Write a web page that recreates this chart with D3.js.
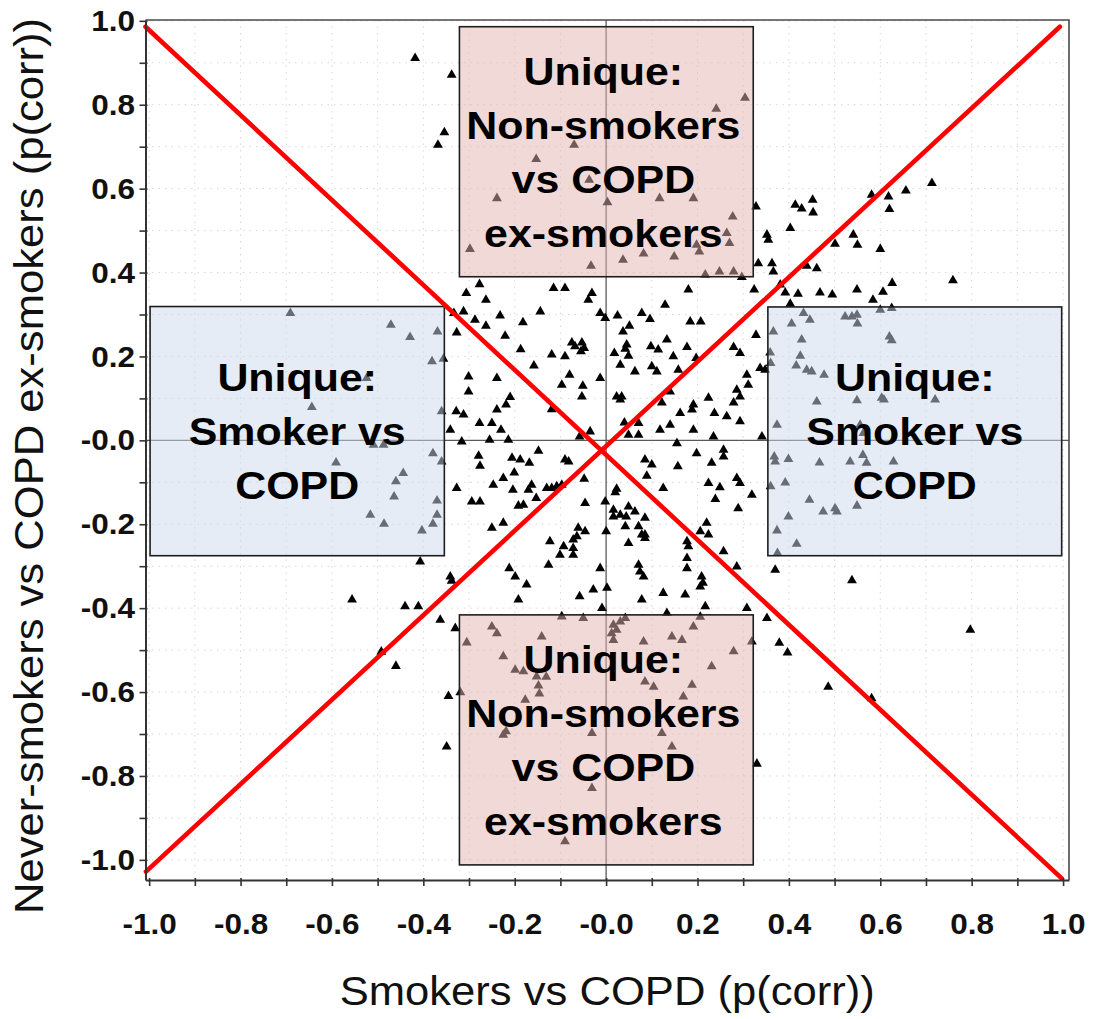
<!DOCTYPE html>
<html>
<head>
<meta charset="utf-8">
<script src="https://cdn.jsdelivr.net/npm/d3@7"></script>
<style>
  html, body { margin: 0; padding: 0; background: #fff; }
  svg { display: block; }
  text { font-family: "Liberation Sans", Arial, Helvetica, sans-serif; }
</style>
</head>
<body>
<svg id="chart" width="1098" height="1019"></svg>
<script>
// p(corr) loadings: [Smokers vs COPD, Never-smokers vs COPD ex-smokers]
const loadings = [
  [-0.418,0.911],[-0.338,0.871],[-0.354,0.734],[-0.368,0.704],
  [0.304,0.816],[0.241,0.790],[-0.070,0.704],[-0.153,0.670],[-0.037,0.621],[-0.239,0.577],[0.003,0.567],
  [0.117,0.577],[0.191,0.577],[0.277,0.533],[0.264,0.494],[0.270,0.470],[0.198,0.466],[0.204,0.450],
  [-0.298,0.456],[0.037,0.430],[0.082,0.445],[0.149,0.438],[-0.033,0.416],[0.217,0.395],[0.248,0.402],[0.279,0.402],
  [0.297,0.389],[0.328,0.557],[0.352,0.490],[0.355,0.478],[0.333,0.422],[0.363,0.422],[0.366,0.402],[0.403,0.506],
  [0.414,0.561],[0.428,0.552],[0.452,0.573],[0.453,0.543],[0.501,0.468],[0.541,0.490],[0.550,0.466],[0.600,0.456],
  [0.581,0.585],[0.618,0.581],[0.620,0.551],[0.656,0.595],[0.713,0.613],[0.759,0.381],[0.439,0.416],[0.461,0.410],
  [0.324,0.359],[0.381,0.371],[0.392,0.352],[0.420,0.349],[0.468,0.352],[0.495,0.347],[0.549,0.359],[0.584,0.335],
  [0.606,0.354],[0.626,0.375],[0.403,0.325],
  [-0.277,0.372],[-0.306,0.351],[-0.263,0.335],[-0.115,0.363],[-0.090,0.363],[-0.031,0.351],[-0.039,0.335],
  [0.180,0.359],[0.129,0.323],[-0.333,0.303],[-0.312,0.307],[-0.287,0.287],[-0.263,0.273],[-0.232,0.297],
  [-0.182,0.281],[-0.144,0.307],[-0.013,0.303],[-0.002,0.291],[0.025,0.297],[0.078,0.303],[0.096,0.289],
  [0.051,0.273],[0.037,0.259],[0.184,0.283],[0.207,0.283],[-0.327,0.257],[-0.221,0.249],[0.328,0.251],
  [-0.075,0.233],[-0.068,0.224],[-0.053,0.233],[-0.048,0.220],[-0.055,0.212],[-0.119,0.204],[-0.090,0.200],
  [-0.187,0.217],[0.045,0.228],[0.042,0.218],[0.049,0.201],[0.018,0.208],[0.031,0.180],[0.098,0.224],
  [0.114,0.216],[0.133,0.240],[0.147,0.200],[0.177,0.222],[0.197,0.196],[0.279,0.222],[0.293,0.208],
  [-0.158,0.178],[0.063,0.164],[0.100,0.176],[0.111,0.164],[0.158,0.168],[0.337,0.172],[0.348,0.168],
  [0.308,0.156],[-0.080,0.156],[-0.097,0.132],[-0.051,0.130],[-0.013,0.148],[-0.301,0.152],[-0.239,0.148],
  [-0.301,0.116],[0.311,0.132],[0.286,0.120],[0.293,0.104],[0.279,0.090],[0.140,0.116],[-0.053,0.104],
  [0.023,0.104],[0.034,0.104],[0.031,0.097],[-0.210,0.103],[-0.219,0.085],[-0.239,0.073],[-0.119,0.074],
  [-0.328,0.069],[-0.312,0.061],[0.122,0.090],[0.162,0.065],[0.188,0.073],[0.191,0.085],[0.224,0.101],
  [0.237,0.065],[0.264,0.057],[0.293,0.045],[-0.277,0.041],[-0.250,0.041],[-0.230,0.025],[-0.341,0.025],
  [-0.035,0.021],[-0.058,0.009],[0.040,0.042],[0.071,0.041],[0.049,0.013],[0.071,0.013],[0.118,0.025],
  [0.140,0.037],[0.191,0.025],[0.235,0.009],[0.341,0.009],[-0.316,-0.003],[-0.255,0.001],[-0.214,0.001],
  [0.155,-0.007],[0.257,-0.023],[0.257,-0.039],[0.198,-0.031],[-0.148,-0.025],[-0.279,-0.037],[-0.276,-0.061],
  [-0.206,-0.042],[-0.188,-0.046],[-0.168,-0.054],[-0.090,-0.046],[-0.082,-0.051],[0.085,-0.046],[0.100,-0.058],
  [0.157,-0.062],[0.231,-0.054],[-0.201,-0.077],[-0.225,-0.090],[-0.247,-0.106],[-0.327,-0.114],[-0.048,-0.092],
  [0.089,-0.085],[0.286,-0.090],[0.293,-0.102],[0.224,-0.102],[0.249,-0.112],[-0.204,-0.118],[-0.163,-0.106],
  [-0.170,-0.118],[-0.130,-0.114],[-0.119,-0.114],[-0.108,-0.110],[-0.097,-0.106],[0.023,-0.116],[0.020,-0.124],
  [0.125,-0.114],[0.319,-0.130],[0.239,-0.140],[-0.294,-0.146],[-0.276,-0.146],[-0.153,-0.138],[-0.181,-0.154],
  [-0.192,-0.156],[-0.046,-0.150],[-0.002,-0.146],[0.049,-0.158],[0.063,-0.170],[0.016,-0.166],[0.031,-0.178],
  [0.044,-0.182],[0.016,-0.182],[0.085,-0.185],[0.289,-0.162],[-0.250,-0.209],[-0.225,-0.197],[-0.061,-0.209],
  [-0.046,-0.217],[-0.064,-0.229],[-0.072,-0.237],[0.000,-0.217],[0.042,-0.205],[0.071,-0.205],[0.078,-0.225],
  [0.085,-0.225],[0.206,-0.217],[0.224,-0.225],[0.220,-0.197],[-0.123,-0.241],[-0.093,-0.253],[-0.072,-0.257],
  [0.049,-0.245],[0.085,-0.233],[0.177,-0.241],[0.180,-0.253],[-0.101,-0.273],[-0.072,-0.273],[-0.126,-0.297],
  [0.257,-0.265],[0.177,-0.281],[0.177,-0.305],[0.071,-0.297],[0.074,-0.313],[0.082,-0.325],[-0.013,-0.305],
  [0.286,-0.301],[0.370,-0.309],[-0.407,-0.289],[-0.212,-0.305],[-0.199,-0.325],[-0.174,-0.344],[-0.192,-0.380],
  [-0.341,-0.325],[-0.338,-0.335],[0.209,-0.325],[0.212,-0.340],[0.206,-0.349],[-0.028,-0.356],[0.002,-0.352],
  [-0.058,-0.372],[0.078,-0.380],[0.125,-0.364],[0.173,-0.368],[-0.009,-0.400],[0.308,-0.400],[0.352,-0.424],
  [0.217,-0.396],[-0.440,-0.396],[-0.411,-0.396],[-0.363,-0.428],[-0.330,-0.448],[-0.556,-0.380],[-0.492,-0.504],
  [-0.460,-0.538],[-0.345,-0.610],[-0.349,-0.730],[0.538,-0.334],[0.133,-0.412],
  [0.432,0.303],[0.446,0.287],[0.406,0.278],[0.366,0.259],[0.523,0.295],[0.538,0.295],[0.549,0.299],
  [0.550,0.278],[0.600,0.311],[0.625,0.315],[0.428,0.240],[0.620,0.247],[0.625,0.238],[0.359,0.209],
  [0.360,0.184],[0.425,0.201],[0.416,0.178],[0.439,0.168],[0.450,0.164],[0.477,0.156],[0.461,0.092],
  [0.549,0.095],[0.603,0.101],[0.608,0.097],[0.720,0.097],[0.374,0.037],[0.556,0.037],[0.563,0.017],
  [0.368,-0.039],[0.370,-0.051],[0.399,-0.045],[0.467,-0.053],[0.534,-0.051],[0.562,-0.035],[0.570,-0.054],
  [0.629,-0.051],[0.360,-0.110],[0.392,-0.101],[0.445,-0.142],[0.475,-0.170],[0.501,-0.162],[0.505,-0.170],
  [0.549,-0.156],[0.399,-0.182],[0.374,-0.215],[0.417,-0.247],[0.375,-0.269],
  [-0.691,0.303],[-0.471,0.275],[-0.429,0.246],[-0.369,0.259],[-0.381,0.188],[-0.356,0.194],[-0.524,0.148],
  [-0.644,0.079],[-0.360,0.069],[-0.509,-0.011],[-0.487,-0.011],[-0.379,-0.031],[-0.360,-0.051],[-0.591,-0.053],
  [-0.444,-0.078],[-0.460,-0.098],[-0.464,-0.134],[-0.370,-0.144],[-0.370,-0.178],[-0.379,-0.199],[-0.516,-0.178],
  [-0.486,-0.199],[-0.403,-0.215],
  [-0.097,-0.420],[-0.050,-0.424],[0.016,-0.440],[0.031,-0.432],[0.042,-0.424],[0.023,-0.452],[0.012,-0.460],
  [0.016,-0.476],[-0.250,-0.444],[-0.239,-0.460],[-0.305,-0.482],[-0.141,-0.468],[-0.225,-0.515],[-0.199,-0.547],
  [-0.181,-0.551],[-0.152,-0.563],[-0.131,-0.564],[-0.148,-0.585],[-0.146,-0.604],[0.082,-0.480],[0.144,-0.468],
  [0.166,-0.476],[0.191,-0.444],[0.206,-0.421],[0.279,-0.503],[0.319,-0.480],[0.231,-0.539],[0.085,-0.575],
  [0.104,-0.588],[0.188,-0.583],[0.169,-0.611],[-0.177,-0.619],[-0.225,-0.702],[-0.219,-0.694],[-0.031,-0.698],
  [0.122,-0.698],[0.144,-0.730],[-0.031,-0.829],[-0.090,-0.956],[-0.319,-0.601],[0.379,-0.483],[0.397,-0.506],
  [0.797,-0.452],[0.486,-0.588],[0.581,-0.615],[0.330,-0.771]
];

// Axis extents (the plotted frame) and ticks
const xExtent = [-1.008, 1.013];
const yExtent = [-1.048, 1.002];
const majorTicks = [-1.0, -0.8, -0.6, -0.4, -0.2, 0.0, 0.2, 0.4, 0.6, 0.8, 1.0];
const minorTicks = [-0.9, -0.7, -0.5, -0.3, -0.1, 0.1, 0.3, 0.5, 0.7, 0.9];
const tickLabels = ["-1.0", "-0.8", "-0.6", "-0.4", "-0.2", "-0.0", "0.2", "0.4", "0.6", "0.8", "1.0"];
const gridValues = [-1.0,-0.9,-0.8,-0.7,-0.6,-0.5,-0.4,-0.3,-0.2,-0.1,0.1,0.2,0.3,0.4,0.5,0.6,0.7,0.8,0.9,1.0];

// Red diagonal reference lines (start/end in p(corr) units)
const diagonals = [
  [[-1.008, 0.986], [0.997, -1.044]],
  [[-1.007, -1.028], [0.993, 0.986]]
];

// Highlighted regions: [x0, x1, y0, y1] in p(corr) units
const regionBounds = [
  [-0.321, 0.322, 0.390, 0.986],
  [-0.321, 0.322, -1.012, -0.416],
  [-0.998, -0.354, -0.275, 0.319],
  [0.354, 0.997, -0.275, 0.318]
];
const regionLabels = [
  ["Unique:", "Non-smokers", "vs COPD", "ex-smokers"],
  ["Unique:", "Non-smokers", "vs COPD", "ex-smokers"],
  ["Unique:", "Smoker vs", "COPD"],
  ["Unique:", "Smoker vs", "COPD"]
];
const regionKinds = ["pink", "pink", "blue", "blue"];

const xTitle = "Smokers vs COPD (p(corr))";
const yTitle = "Never-smokers vs COPD ex-smokers (p(corr))";

// ---- layout ----
const frame = { left: 145.5, right: 1069, top: 20, bottom: 880 };
const svg = d3.select("#chart");

const x = d3.scaleLinear().domain(xExtent).range([frame.left, frame.right]);
const y = d3.scaleLinear().domain(yExtent).range([frame.bottom, frame.top]);

const fillFor = { pink: "#e4b3b1", blue: "#cbd9ee" };

// dotted grid
const grid = svg.append("g").attr("stroke", "#d8d8d8").attr("stroke-width", 1)
  .attr("stroke-dasharray", "1.5,5");
grid.selectAll("line.v").data(gridValues).join("line").attr("class", "v")
  .attr("x1", d => x(d)).attr("x2", d => x(d))
  .attr("y1", frame.top).attr("y2", frame.bottom);
grid.selectAll("line.h").data(gridValues).join("line").attr("class", "h")
  .attr("y1", d => y(d)).attr("y2", d => y(d))
  .attr("x1", frame.left).attr("x2", frame.right);

// zero lines
svg.append("line").attr("x1", frame.left).attr("x2", frame.right)
  .attr("y1", y(0)).attr("y2", y(0)).attr("stroke", "#5a5a5a").attr("stroke-width", 1.3);
svg.append("line").attr("y1", frame.top).attr("y2", frame.bottom)
  .attr("x1", x(0)).attr("x2", x(0)).attr("stroke", "#5a5a5a").attr("stroke-width", 1.3);

// points
const tri = d3.symbol().type(d3.symbolTriangle).size(42);
svg.append("g").selectAll("path").data(loadings).join("path")
  .attr("d", tri)
  .attr("transform", d => `translate(${x(d[0])},${y(d[1])})`)
  .attr("fill", "#000");

// highlighted regions
const regions = svg.append("g");
regionBounds.forEach((b, i) => {
  const rx0 = x(b[0]), rx1 = x(b[1]), ry0 = y(b[3]), ry1 = y(b[2]);
  regions.append("rect")
    .attr("x", rx0).attr("y", ry0).attr("width", rx1 - rx0).attr("height", ry1 - ry0)
    .attr("fill", fillFor[regionKinds[i]]).attr("fill-opacity", 0.5)
    .attr("stroke", "#1e1e1e").attr("stroke-width", 1.6);
  const lines = regionLabels[i];
  const cx = (rx0 + rx1) / 2 - (regionKinds[i] === "pink" ? 3 : 0);
  const cy = (ry0 + ry1) / 2 + 14;
  lines.forEach((t, j) => {
    regions.append("text")
      .attr("transform", `translate(${cx},${cy + (j - (lines.length - 1) / 2) * 54}) scale(1.1,1)`)
      .attr("text-anchor", "middle")
      .attr("font-size", 39).attr("font-weight", "bold").attr("fill", "#000")
      .text(t);
  });
});

// red diagonals
svg.append("g").selectAll("line").data(diagonals).join("line")
  .attr("x1", d => x(d[0][0])).attr("y1", d => y(d[0][1]))
  .attr("x2", d => x(d[1][0])).attr("y2", d => y(d[1][1]))
  .attr("stroke", "#ff0000").attr("stroke-width", 4.6).attr("stroke-linecap", "round");

// frame (top / right)
svg.append("path")
  .attr("d", `M${frame.left},${frame.top}H${frame.right}V${frame.bottom}`)
  .attr("fill", "none").attr("stroke", "#4a4a4a").attr("stroke-width", 1.6);

// axes
function styleAxis(g) {
  g.select(".domain").attr("stroke", "#333").attr("stroke-width", 2);
  g.selectAll(".tick line").attr("stroke", "#333").attr("stroke-width", 1.6);
  g.attr("font-family", null).attr("font-size", null);
}
const yMinor = svg.append("g").attr("transform", `translate(${frame.left},0)`)
  .call(d3.axisLeft(y).tickValues(minorTicks).tickSize(6).tickSizeOuter(0).tickFormat(""));
styleAxis(yMinor); yMinor.select(".domain").remove();
yMinor.selectAll(".tick line").attr("x1", 2);

const yMajor = svg.append("g").attr("transform", `translate(${frame.left},0)`)
  .call(d3.axisLeft(y).tickValues(majorTicks).tickSize(6).tickSizeOuter(0).tickPadding(4)
    .tickFormat((d, i) => tickLabels[i]));
styleAxis(yMajor);
yMajor.selectAll(".tick line").attr("x1", 2);
yMajor.selectAll("text")
  .attr("font-size", 30).attr("font-weight", "bold").attr("fill", "#111")
  .attr("transform", "scale(1.05,1)");

const xMinor = svg.append("g").attr("transform", `translate(0,${frame.bottom})`)
  .call(d3.axisBottom(x).tickValues(minorTicks).tickSize(6).tickSizeOuter(0).tickFormat(""));
styleAxis(xMinor); xMinor.select(".domain").remove();
xMinor.selectAll(".tick line").attr("y1", -2);

const xMajor = svg.append("g").attr("transform", `translate(0,${frame.bottom})`)
  .call(d3.axisBottom(x).tickValues(majorTicks).tickSize(6).tickSizeOuter(0).tickPadding(27)
    .tickFormat((d, i) => tickLabels[i]));
styleAxis(xMajor);
xMajor.selectAll(".tick line").attr("y1", -2);
xMajor.selectAll("text")
  .attr("font-size", 30).attr("font-weight", "bold").attr("fill", "#111")
  .attr("transform", "scale(1.05,1)");

// axis titles
svg.append("text")
  .attr("transform", `translate(${(frame.left + frame.right) / 2},1005) scale(1.09,1)`)
  .attr("text-anchor", "middle").attr("font-size", 40).attr("fill", "#111")
  .text(xTitle);
svg.append("text")
  .attr("transform", `translate(43,466) rotate(-90) scale(1.09,1)`)
  .attr("text-anchor", "middle").attr("font-size", 40).attr("fill", "#111")
  .text(yTitle);
</script>
</body>
</html>
